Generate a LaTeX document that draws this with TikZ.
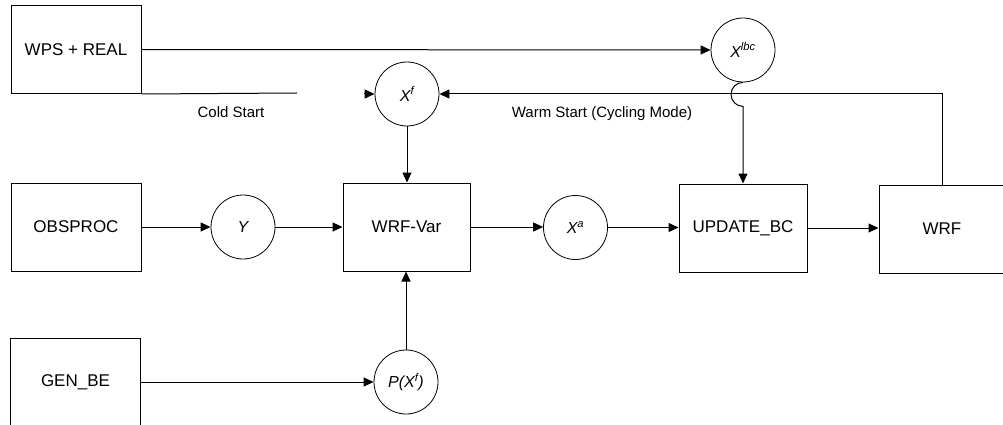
\documentclass[tikz,border=0pt]{standalone}
\usepackage{fontspec}
\setmainfont{Liberation Sans}
\usetikzlibrary{arrows.meta}
\begin{document}
\begin{tikzpicture}[x=1pt,y=-1pt,
  every path/.style={line width=1pt},
  boxnode/.style={draw,line width=1pt,minimum width=130pt,minimum height=88pt,inner sep=0pt,font=\fontsize{17}{20}\selectfont},
  circnode/.style={draw,circle,line width=0.8pt,minimum size=64pt,inner sep=0pt,font=\fontsize{16}{19}\selectfont\itshape},
  lbl/.style={font=\fontsize{15}{18}\selectfont},
  arr/.style={-{Triangle[length=10pt,width=9pt]}}]
\fill[white] (0,0) rectangle (1003,425);
\useasboundingbox (0,0) rectangle (1003,425);
% boxes
\node[boxnode] (wps) at (76,49.5) {WPS + REAL};
\node[boxnode] (obs) at (76,227) {OBSPROC};
\node[boxnode] (gen) at (75.5,382) {GEN\_BE};
\node[boxnode,minimum width=127pt] (var) at (406.5,227) {WRF-Var};
\node[boxnode,minimum width=128pt] (upd) at (743,228) {UPDATE\_BC};
\node[boxnode,minimum width=126pt] (wrf) at (942,229) {WRF};
% circles
\node[circnode] (y) at (243,227) {Y};
\node[circnode] (xa) at (575.5,227.5) {X\textsuperscript{a}};
\node[circnode] (xf) at (407,94) {X\textsuperscript{f}};
\node[circnode] (xlbc) at (743,50) {X\textsuperscript{lbc}};
\node[circnode] (pxf) at (406,382) {P(X\textsuperscript{f})};
% labels
\node[lbl] (cold) at (231,112) {Cold Start};
\node[lbl] (warm) at (602,114) {Warm Start (Cycling Mode)};
% connectors
\coordinate (csend) at (297,93);
\draw (wps.south east) -- (csend);
\coordinate (stray) at (364,94);
\draw[arr] (stray) -- (xf.west);
\draw[arr] (wps.east) -- (xlbc.west);
\draw[arr] (obs.east) -- (y.west);
\draw[arr] (y.east) -- (y.east -| var.west);
\draw[arr] (var.east) -- (var.east -| xa.west);
\draw[arr] (xa.east) -- (xa.east -| upd.west);
\draw[arr] (upd.east) -- (upd.east -| wrf.west);
\draw[arr] (gen.east |- pxf.west) -- (pxf.west);
\draw[arr] (pxf.north) -- (var.south -| pxf.north);
\draw[arr] (xf.south) -- (var.north -| xf.south);
\draw[arr] (wrf.north) |- (xf.east);
\draw[arr] (xlbc.south) arc[start angle=90,end angle=270,radius=12pt] -- (upd.north);
\end{tikzpicture}
\end{document}
